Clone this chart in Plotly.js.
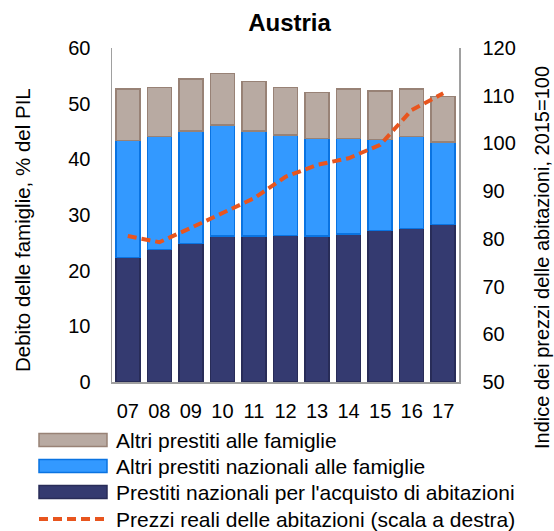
<!DOCTYPE html>
<html>
<head>
<meta charset="utf-8">
<script src="https://cdn.plot.ly/plotly-3.0.1.min.js"></script>
<style>html,body{margin:0;padding:0;background:#fff;}#chart{width:554px;height:531px;}</style>
</head>
<body>
<div id="chart"></div>
<script>
// ---- data ----
var years = ['07','08','09','10','11','12','13','14','15','16','17'];
var prestitiAbitazioni = [22.4, 23.8, 24.9, 26.2, 26.2, 26.3, 26.2, 26.6, 27.2, 27.6, 28.3];
var altriNazionali     = [21.0, 20.3, 20.2, 20.0, 18.9, 18.1, 17.5, 17.1, 16.4, 16.5, 14.8];
var altriPrestiti      = [9.2, 8.8, 9.3, 9.2, 8.9, 8.5, 8.3, 8.9, 8.7, 8.5, 8.2];
var prezziReali        = [80.6, 79.3, 82.3, 85.4, 88.5, 93.0, 95.5, 96.9, 99.7, 107.0, 110.5];

var names = [
  'Altri prestiti alle famiglie',
  'Altri prestiti nazionali alle famiglie',
  "Prestiti nazionali per l'acquisto di abitazioni",
  'Prezzi reali delle abitazioni (scala a destra)'
];

// ---- styles ----
var FONT = 'Liberation Sans, Arial, sans-serif';
var cGray = 'rgb(184,170,162)', lGray = 'rgb(152,130,118)';
var cBlue = 'rgb(51,153,255)', lBlue = 'rgb(10,115,225)';
var cDark = 'rgb(52,58,112)', lDark = 'rgb(40,44,88)';
var cOrange = 'rgb(232,85,30)';

var W = 554, H = 531;
var mL = 112, mR = 95, mT = 48, mB = 149;
function px(x){ return (x - mL) / (W - mL - mR); }
function py(y){ return (H - mB - y) / (H - mT - mB); }

var traces = [
  {type:'bar', name:names[2], x:years, y:prestitiAbitazioni,
   marker:{color:cDark, line:{color:lDark, width:1.5}}, hoverinfo:'y'},
  {type:'bar', name:names[1], x:years, y:altriNazionali,
   marker:{color:cBlue, line:{color:lBlue, width:1.5}}, hoverinfo:'y'},
  {type:'bar', name:names[0], x:years, y:altriPrestiti,
   marker:{color:cGray, line:{color:lGray, width:1.5}}, hoverinfo:'y'},
  {type:'scatter', mode:'lines', name:names[3], x:years, y:prezziReali, yaxis:'y2',
   line:{color:cOrange, width:4, dash:'9px,5px'}}
];

// manual legend
var shapes = [];
var annotations = [];
var rowsY = [440, 466, 492, 519];
var fills = [[cGray,lGray],[cBlue,lBlue],[cDark,lDark]];
for (var i = 0; i < 3; i++) {
  shapes.push({type:'rect', xref:'paper', yref:'paper',
    x0:px(39), x1:px(107), y0:py(rowsY[i]-6.5), y1:py(rowsY[i]+6.5),
    fillcolor:fills[i][0], line:{color:fills[i][1], width:1.5}});
}
shapes.push({type:'line', xref:'paper', yref:'paper',
  x0:px(39), x1:px(108), y0:py(rowsY[3]), y1:py(rowsY[3]),
  line:{color:cOrange, width:4, dash:'9px,5px'}});
for (var j = 0; j < 4; j++) {
  annotations.push({xref:'paper', yref:'paper', x:px(114), y:py(rowsY[j]),
    xanchor:'left', yanchor:'middle', showarrow:false, text:names[j],
    font:{family:FONT, size:21, color:'#000'}});
}
// axis titles
annotations.push({xref:'paper', yref:'paper', x:px(22), y:py(230), textangle:-90,
  xanchor:'center', yanchor:'middle', showarrow:false,
  text:'Debito delle famiglie, % del PIL', font:{family:FONT, size:20.5, color:'#000'}});
annotations.push({xref:'paper', yref:'paper', x:px(542), y:py(258), textangle:-90,
  xanchor:'center', yanchor:'middle', showarrow:false,
  text:'Indice dei prezzi delle abitazioni, 2015=100', font:{family:FONT, size:20, color:'#000'}});

var axisCol = 'rgb(160,160,160)';
var layout = {
  width:W, height:H,
  margin:{l:mL, r:mR, t:mT, b:mB, pad:0},
  paper_bgcolor:'#fff', plot_bgcolor:'#fff',
  showlegend:false,
  barmode:'stack', bargap:0.24,
  font:{family:FONT, size:20, color:'#000'},
  title:{text:'<b>Austria</b>', font:{family:FONT, size:24, color:'#000'},
         xref:'container', yref:'container', x:289.5/W, y:1-23/H, xanchor:'center', yanchor:'middle'},
  xaxis:{type:'category', range:[-0.5,10.5], showgrid:false, zeroline:false,
         showline:true, linecolor:axisCol, linewidth:1.5, ticks:'', ticklabelstandoff:10,
         tickfont:{family:FONT, size:20, color:'#000'}, fixedrange:true},
  yaxis:{range:[0,60], dtick:10, showgrid:false, zeroline:false, showline:true,
         linecolor:axisCol, linewidth:1.5, ticks:'', ticklabelstandoff:16,
         tickfont:{family:FONT, size:20, color:'#000'}},
  yaxis2:{overlaying:'y', side:'right', range:[50,120], dtick:10, showgrid:false, zeroline:false,
          showline:true, linecolor:axisCol, linewidth:1.5, ticks:'', ticklabelstandoff:18,
          tickfont:{family:FONT, size:20, color:'#000'}},
  shapes:shapes,
  annotations:annotations
};

Plotly.newPlot('chart', traces, layout, {displayModeBar:false, staticPlot:true});
</script>
</body>
</html>
